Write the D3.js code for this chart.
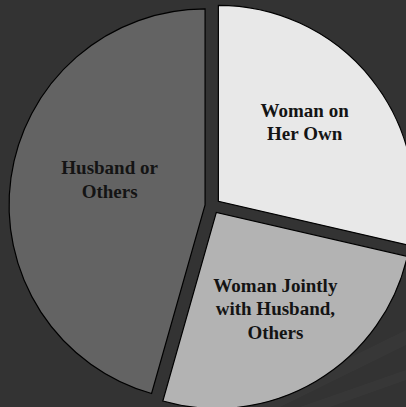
<!DOCTYPE html>
<html>
<head>
<meta charset="utf-8">
<script src="https://cdn.jsdelivr.net/npm/d3@7"></script>
<style>
  html, body { margin: 0; padding: 0; background: #333; }
  svg { display: block; }
</style>
</head>
<body>
<script>
// data
var categories = ["Woman on Her Own", "Woman Jointly with Husband, Others", "Husband or Others"];
var values = [28.6, 25.8, 45.6];
var labelLines = [["Woman on", "Her Own"], ["Woman Jointly", "with Husband,", "Others"], ["Husband or", "Others"]];
var sliceColors = ["#e8e8e8", "#b3b3b3", "#636363"];

var svgWidth = 406;
var svgHeight = 407;
var cx = 212.5, cy = 206;
var radius = 196;
var explode = 7.5;
var labelR = [115, 116, 98];

var svg = d3.select("body")
  .append("svg")
  .attr("width", svgWidth)
  .attr("height", svgHeight);

// background
svg.append("rect")
  .attr("width", svgWidth)
  .attr("height", svgHeight)
  .attr("fill", "#333333");

// faint streaks bottom right
var streaks = [
  [[250, 407], [406, 330], [406, 345], [280, 407]],
  [[300, 407], [406, 370], [406, 380], [330, 407]]
];
svg.selectAll(".streak")
  .data(streaks)
  .enter()
  .append("polygon")
  .attr("points", d => d.map(p => p.join(",")).join(" "))
  .attr("fill", "rgba(255,255,255,0.025)");

var pie = d3.pie().sort(null).value(d => d)(values);
var arc = d3.arc().innerRadius(0).outerRadius(radius);

var chartGroup = svg.append("g")
  .attr("transform", `translate(${cx}, ${cy})`);

var slices = chartGroup.selectAll(".slice")
  .data(pie)
  .enter()
  .append("g")
  .attr("class", "slice")
  .attr("transform", function(d) {
    var a = (d.startAngle + d.endAngle) / 2;
    return `translate(${Math.sin(a) * explode}, ${-Math.cos(a) * explode})`;
  });

slices.append("path")
  .attr("d", arc)
  .attr("fill", (d, i) => sliceColors[i])
  .attr("stroke", "#000")
  .attr("stroke-width", 1.2)
  .attr("stroke-linejoin", "miter");

// labels
slices.each(function(d, i) {
  var a = (d.startAngle + d.endAngle) / 2;
  if (i == 0) a -= 0.05;
  if (i == 2) a += 0.09;
  var lx = Math.sin(a) * labelR[i];
  var ly = -Math.cos(a) * labelR[i];
  var lines = labelLines[i];
  var t = d3.select(this).append("text")
    .attr("text-anchor", "middle")
    .attr("font-family", "'Liberation Serif', 'Times New Roman', serif")
    .attr("font-weight", "bold")
    .attr("font-size", "19px")
    .attr("fill", "#141414");
  lines.forEach(function(line, k) {
    t.append("tspan")
      .attr("x", lx)
      .attr("y", ly + (k - (lines.length - 1) / 2) * 23.5 + 3)
      .text(line);
  });
});
</script>
</body>
</html>
